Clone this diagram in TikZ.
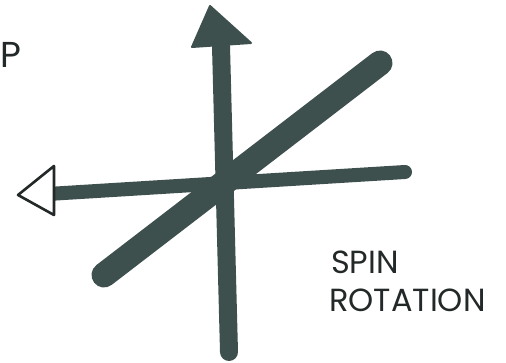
\documentclass[tikz,border=0pt]{standalone}
\usepackage{fontspec}
\setmainfont{Poppins}
\definecolor{ink}{RGB}{62,80,77}
\definecolor{pen}{RGB}{35,40,40}
\begin{document}
\begin{tikzpicture}[x=1pt,y=-1pt,
  stroke/.style={draw=ink,line cap=round,line join=round},
  hand/.style={text=pen,font=\fontsize{32}{32}\selectfont,inner sep=0pt,anchor=base west}]
\useasboundingbox (0,0) rectangle (506,363);
% coordinates
\coordinate (vb) at (229,352);
\coordinate (vt) at (221,46);
\coordinate (ha) at (48,194);
\coordinate (hr) at (405,172);
\coordinate (dl) at (104,275);
\coordinate (dr) at (380,63);
\coordinate (ap) at (210,6);
\coordinate (al) at (192,47);
\coordinate (ar) at (251,43);
\coordinate (lp) at (18,195);
\coordinate (lt) at (54,166);
\coordinate (lb) at (54,215);
% diagonal
\draw[stroke,line width=25pt] (dl) -- (dr);
% horizontal
\draw[stroke,line width=14pt] (ha) -- (hr);
% vertical
\draw[stroke,line width=18pt] (vb) -- (vt);
% up arrowhead (filled)
\filldraw[fill=ink,draw=ink,line width=2pt,line join=round] (ap) -- (ar) -- (al) -- cycle;
% left arrowhead (open)
\filldraw[fill=white,draw=pen,line width=2.6pt,line join=round] (lp) -- (lt) -- (lb) -- cycle;
% texts
\node[hand] (s1) at (331,274) {SPIN};
\node[hand] (s2) at (329,312) {ROTATION};
\node[hand,font=\fontsize{36}{36}\selectfont] (p) at (0,68) {P};
\end{tikzpicture}
\end{document}
